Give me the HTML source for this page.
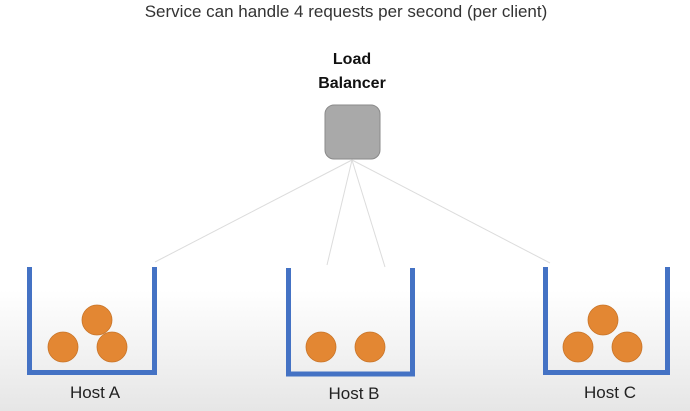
<!DOCTYPE html>
<html><head><style>
body{margin:0;width:690px;height:411px;overflow:hidden;font-family:"Liberation Sans",sans-serif;background:linear-gradient(#fff 0,#fff 290px,#e6e6e6 411px);}
</style></head><body>
<svg width="690" height="411" xmlns="http://www.w3.org/2000/svg" style="position:absolute;left:0;top:0">
<text x="346" y="17" font-size="17" fill="#333" text-anchor="middle" font-family="Liberation Sans">Service can handle 4 requests per second (per client)</text>
<text x="352" y="64" font-size="16" font-weight="bold" fill="#111" text-anchor="middle" font-family="Liberation Sans">Load</text>
<text x="352" y="88" font-size="16" font-weight="bold" fill="#111" text-anchor="middle" font-family="Liberation Sans">Balancer</text>
<rect x="325" y="105" width="55" height="54" rx="9" fill="#a9a9a9" stroke="#8a8a8a"/>
<g stroke="#dcdcdc" stroke-width="1">
<line x1="352" y1="160" x2="155" y2="262"/>
<line x1="352" y1="160" x2="327" y2="265"/>
<line x1="352" y1="160" x2="385" y2="267"/>
<line x1="352" y1="160" x2="550" y2="263"/>
</g>
<g fill="none" stroke="#4472c4" stroke-width="5">
<polyline points="29.5,267 29.5,372.5 154.5,372.5 154.5,267"/>
<polyline points="288.5,268 288.5,374 412.5,374 412.5,268"/>
<polyline points="545.5,267 545.5,372.5 667.5,372.5 667.5,267"/>
</g>
<g fill="#e38733" stroke="#c87428" stroke-width="0.8">
<circle cx="97" cy="320" r="15"/><circle cx="63" cy="347" r="15"/><circle cx="112" cy="347" r="15"/>
<circle cx="321" cy="347" r="15"/><circle cx="370" cy="347" r="15"/>
<circle cx="603" cy="320" r="15"/><circle cx="578" cy="347" r="15"/><circle cx="627" cy="347" r="15"/>
</g>
<g font-size="17" fill="#222" text-anchor="middle" font-family="Liberation Sans">
<text x="95" y="398">Host A</text>
<text x="354" y="399">Host B</text>
<text x="610" y="398">Host C</text>
</g>
</svg>
</body></html>
